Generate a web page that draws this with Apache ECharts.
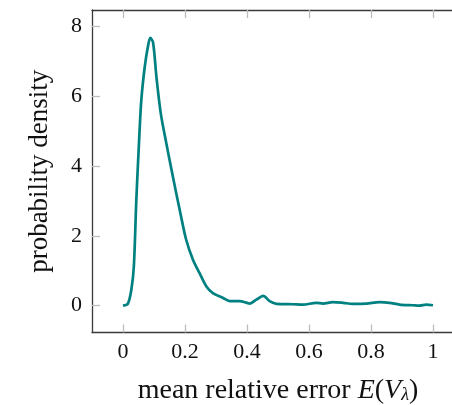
<!DOCTYPE html>
<html>
<head>
<meta charset="utf-8">
<script src="https://cdn.jsdelivr.net/npm/echarts@6/dist/echarts.min.js"></script>
<style>
html,body{margin:0;padding:0;background:#fff;}
#chart{width:452px;height:405px;}
</style>
</head>
<body>
<div id="chart"></div>
<script>
// Data
var errorValues = [0, 0.016, 0.027, 0.035, 0.043, 0.052, 0.059, 0.07, 0.081, 0.088, 0.097, 0.108, 0.122, 0.14, 0.161, 0.183, 0.204, 0.226, 0.247, 0.269, 0.29, 0.323, 0.344, 0.376, 0.409, 0.43, 0.452, 0.473, 0.495, 0.548, 0.58, 0.624, 0.645, 0.677, 0.71, 0.74, 0.785, 0.828, 0.86, 0.892, 0.935, 0.957, 0.978, 1.0];
var densityValues = [0, 0.06, 0.46, 1.12, 3.03, 4.74, 5.88, 6.83, 7.45, 7.67, 7.54, 6.54, 5.5, 4.64, 3.69, 2.74, 1.88, 1.31, 0.93, 0.55, 0.36, 0.22, 0.13, 0.13, 0.06, 0.17, 0.28, 0.13, 0.05, 0.04, 0.03, 0.08, 0.06, 0.1, 0.08, 0.05, 0.06, 0.1, 0.08, 0.03, 0.01, 0.0, 0.03, 0.01];
var xTicks = [0, 0.2, 0.4, 0.6, 0.8, 1];
var yTicks = [0, 2, 4, 6, 8];

var serif = '"Liberation Serif", "DejaVu Serif", serif';
var points = errorValues.map(function (v, i) { return [v, densityValues[i]]; });

var chart = echarts.init(document.getElementById('chart'), null, {renderer: 'canvas'});
var axisLineStyle = {color: '#3a3a3a', width: 1.3};
var tickStyle = {color: '#bdbdbd', width: 1.3};
var nameSize = 28;
chart.setOption({
  animation: false,
  grid: {left: 92, top: 10, width: 372, height: 322.5, containLabel: false, outerBoundsMode: 'none'},
  xAxis: [{
    type: 'value', min: -0.1, max: 1.1, position: 'bottom',
    axisLine: {show: true, onZero: false, lineStyle: axisLineStyle},
    axisTick: {show: true, inside: true, length: 8, lineStyle: tickStyle, customValues: xTicks},
    axisLabel: {show: true, customValues: xTicks, margin: 9, color: '#111', fontFamily: serif, fontSize: 22},
    splitLine: {show: false},
    name: 'mean relative error {i|E}({i|V}{s|λ})',
    nameLocation: 'middle', nameGap: 44,
    nameTextStyle: {color: '#111', fontFamily: serif, fontSize: nameSize,
      rich: {i: {fontStyle: 'italic', fontFamily: serif, fontSize: nameSize, color: '#111'},
             s: {fontStyle: 'italic', fontFamily: serif, fontSize: 18, color: '#111', verticalAlign: 'bottom', padding: [10, 0, 0, 0]}}}
  }, {
    type: 'value', min: -0.1, max: 1.1, position: 'top',
    axisLine: {show: true, onZero: false, lineStyle: axisLineStyle},
    axisTick: {show: true, inside: true, length: 8, lineStyle: tickStyle, customValues: xTicks},
    axisLabel: {show: false},
    splitLine: {show: false}
  }],
  yAxis: [{
    type: 'value', min: -0.77, max: 8.47, position: 'left',
    axisLine: {show: true, onZero: false, lineStyle: axisLineStyle},
    axisTick: {show: true, inside: true, length: 8, lineStyle: tickStyle, customValues: yTicks},
    axisLabel: {show: true, customValues: yTicks, margin: 10, color: '#111', fontFamily: serif, fontSize: 22},
    splitLine: {show: false},
    name: 'probability density', nameLocation: 'middle', nameGap: 39,
    nameTextStyle: {color: '#111', fontFamily: serif, fontSize: 27}
  }],
  series: [{
    type: 'line', xAxisIndex: 0, yAxisIndex: 0,
    data: points, smooth: 0.3, showSymbol: false, symbol: 'none',
    lineStyle: {color: '#008080', width: 2.7},
    clip: true
  }]
});
</script>
</body>
</html>
